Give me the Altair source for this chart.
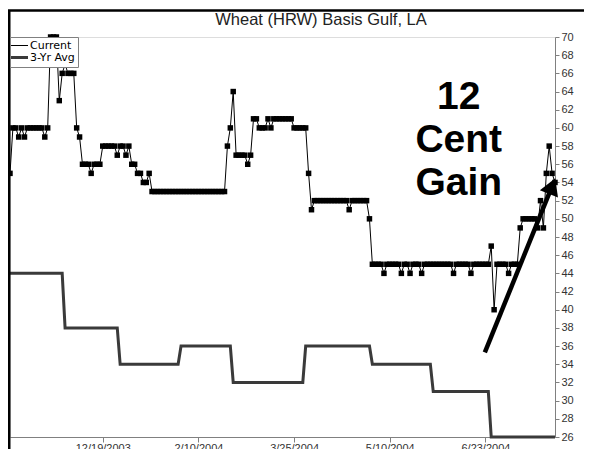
import altair as alt
import pandas as pd

# ---- data ----
series_names = ["Current", "3-Yr Avg"]

current_values = [
    55, 60, 60, 59, 60, 59, 60, 60, 60, 60,
    60, 60, 59, 60, 70, 70, 70, 63, 66, 67,
    66, 66, 66, 60, 59, 56, 56, 56, 55, 56,
    56, 56, 58, 58, 58, 58, 58, 57, 58, 58,
    57, 58, 56, 56, 55, 55, 54, 54, 55, 53,
    53, 53, 53, 53, 53, 53, 53, 53, 53, 53,
    53, 53, 53, 53, 53, 53, 53, 53, 53, 53,
    53, 53, 53, 53, 53, 58, 60, 64, 57, 57,
    57, 57, 56, 57, 61, 61, 60, 60, 60, 61,
    60, 61, 61, 61, 61, 61, 61, 61, 60, 60,
    60, 60, 60, 55, 51, 52, 52, 52, 52, 52,
    52, 52, 52, 52, 52, 52, 52, 51, 52, 52,
    52, 52, 52, 52, 50, 45, 45, 45, 45, 44,
    45, 45, 45, 45, 45, 44, 45, 45, 44, 45,
    45, 45, 44, 45, 45, 45, 45, 45, 45, 45,
    45, 45, 45, 44, 45, 45, 45, 45, 45, 44,
    45, 45, 45, 45, 45, 45, 47, 40, 45, 45,
    45, 45, 44, 45, 45, 45, 49, 50, 50, 50,
    50, 50, 49, 52, 49, 55, 58, 55, 54,
]

avg_values = [
    44, 44, 44, 44, 44, 44, 44, 44, 44, 44,
    44, 44, 44, 44, 44, 44, 44, 44, 44, 38,
    38, 38, 38, 38, 38, 38, 38, 38, 38, 38,
    38, 38, 38, 38, 38, 38, 38, 38, 34, 34,
    34, 34, 34, 34, 34, 34, 34, 34, 34, 34,
    34, 34, 34, 34, 34, 34, 34, 34, 34, 36,
    36, 36, 36, 36, 36, 36, 36, 36, 36, 36,
    36, 36, 36, 36, 36, 36, 36, 32, 32, 32,
    32, 32, 32, 32, 32, 32, 32, 32, 32, 32,
    32, 32, 32, 32, 32, 32, 32, 32, 32, 32,
    32, 32, 36, 36, 36, 36, 36, 36, 36, 36,
    36, 36, 36, 36, 36, 36, 36, 36, 36, 36,
    36, 36, 36, 36, 36, 34, 34, 34, 34, 34,
    34, 34, 34, 34, 34, 34, 34, 34, 34, 34,
    34, 34, 34, 34, 34, 34, 31, 31, 31, 31,
    31, 31, 31, 31, 31, 31, 31, 31, 31, 31,
    31, 31, 31, 31, 31, 31, 26, 26, 26, 26,
    26, 26, 26, 26, 26, 26, 26, 26, 26, 26,
    26, 26, 26, 26, 26, 26, 26, 26, 26,
]

x_tick_index = [32, 65, 98, 131, 164]
x_tick_labels = ["12/19/2003", "2/10/2004", "3/25/2004", "5/10/2004", "6/23/2004"]
y_ticks = [26, 28, 30, 32, 34, 36, 38, 40, 42, 44, 46, 48, 50,
           52, 54, 56, 58, 60, 62, 64, 66, 68, 70]

annotation_lines = ["12", "Cent", "Gain"]
annotation_day = [154.8]
annotation_value = [63.4]

arrow_day = [163.8, 187.0]
arrow_value = [35.3, 53.6]
arrow_head_day = [187.0]
arrow_head_value = [53.6]

title_text = "Wheat (HRW) Basis Gulf, LA"

# ---- tables ----
days = list(range(len(current_values)))
df = pd.DataFrame({
    "day": days + days,
    "value": current_values + avg_values,
    "series": [series_names[0]] * len(current_values) + [series_names[1]] * len(avg_values),
})
ann_df = pd.DataFrame({"day": annotation_day, "value": annotation_value,
                       "label": ["\n".join(annotation_lines)]})
arrow_df = pd.DataFrame({"day": arrow_day, "value": arrow_value})
head_df = pd.DataFrame({"day": arrow_head_day, "value": arrow_head_value})

label_expr = ""
for i, l in zip(x_tick_index, x_tick_labels):
    label_expr += f"datum.value == {i} ? '{l}' : "
label_expr += "''"

x_scale = alt.Scale(domain=[0, len(current_values) - 1], nice=False, zero=False)
y_scale = alt.Scale(domain=[26, 70], nice=False, zero=False)

x_axis = alt.Axis(values=x_tick_index, labelExpr=label_expr, title=None, grid=False,
                  tickSize=5, tickColor="#808080", domainColor="#808080",
                  labelFont="Liberation Sans", labelFontSize=11, labelColor="#333333",
                  labelPadding=0, labelFlush=False)
y_axis = alt.Axis(orient="right", values=y_ticks, title=None, grid=False,
                  tickSize=4, tickColor="#808080", domainColor="#808080",
                  labelFont="Liberation Sans", labelFontSize=11, labelColor="#333333",
                  labelPadding=2)

X = alt.X("day:Q", scale=x_scale, axis=x_axis)
Y = alt.Y("value:Q", scale=y_scale, axis=y_axis)

legend = alt.Legend(title=None, orient="none", legendX=0, legendY=0,
                    fillColor="white", strokeColor="#808080", padding=3,
                    labelFont="DejaVu Sans", labelFontSize=11, labelColor="black",
                    symbolSize=100, symbolType="M-1.7,0H1.7", rowPadding=-1,
                    labelOffset=4, cornerRadius=0,
                    labelExpr="datum.label + '\u00a0\u00a0\u00a0\u00a0\u00a0\u00a0'")

lines = alt.Chart(df).mark_line().encode(
    x=X, y=Y,
    color=alt.Color("series:N", scale=alt.Scale(domain=series_names,
                                                range=["#000000", "#3a3a3a"]),
                    legend=legend),
    strokeWidth=alt.StrokeWidth("series:N", scale=alt.Scale(domain=series_names,
                                                            range=[1, 3]),
                                legend=legend),
)

points = alt.Chart(df).transform_filter(
    alt.datum.series == series_names[0]
).mark_square(size=30, color="black", opacity=1).encode(x=X, y=Y)

annotation = alt.Chart(ann_df).mark_text(
    lineBreak="\n", font="Liberation Sans", fontSize=39, fontWeight="bold",
    lineHeight=43, align="center", baseline="middle", color="black"
).encode(x=X, y=Y, text="label:N")

arrow = alt.Chart(arrow_df).mark_line(color="black", strokeWidth=4.5).encode(x=X, y=Y)
head = alt.Chart(head_df).mark_point(shape="triangle-up", filled=True, size=380,
                                     angle=22, color="black", opacity=1).encode(x=X, y=Y)

frame_df = alt.Data(values=[{"k": 1}])
frame_left = alt.Chart(frame_df).mark_rule(color="black", strokeWidth=3).encode(
    x=alt.value(-1), y=alt.value(-27), y2=alt.value(420))
frame_top = alt.Chart(frame_df).mark_rule(color="black", strokeWidth=2.5).encode(
    x=alt.value(-3), x2=alt.value(600), y=alt.value(-26.5))
title_mark = alt.Chart(alt.Data(values=[{"t": title_text}])).mark_text(
    font="Liberation Sans", fontSize=16.5, color="#222222", align="center",
    baseline="alphabetic"
).encode(x=alt.value(311), y=alt.value(-12), text="t:N")

chart = alt.layer(
    lines, points, arrow, head, annotation, frame_left, frame_top, title_mark
).properties(
    width=545, height=400,
    autosize=alt.AutoSizeParams(type="none"),
    padding={"left": 2, "top": 29, "right": 29, "bottom": 12},
).configure_view(stroke="#808080", strokeWidth=1).configure(background="white")

chart.save("out.html", embed_options={"renderer": "svg", "actions": False})
